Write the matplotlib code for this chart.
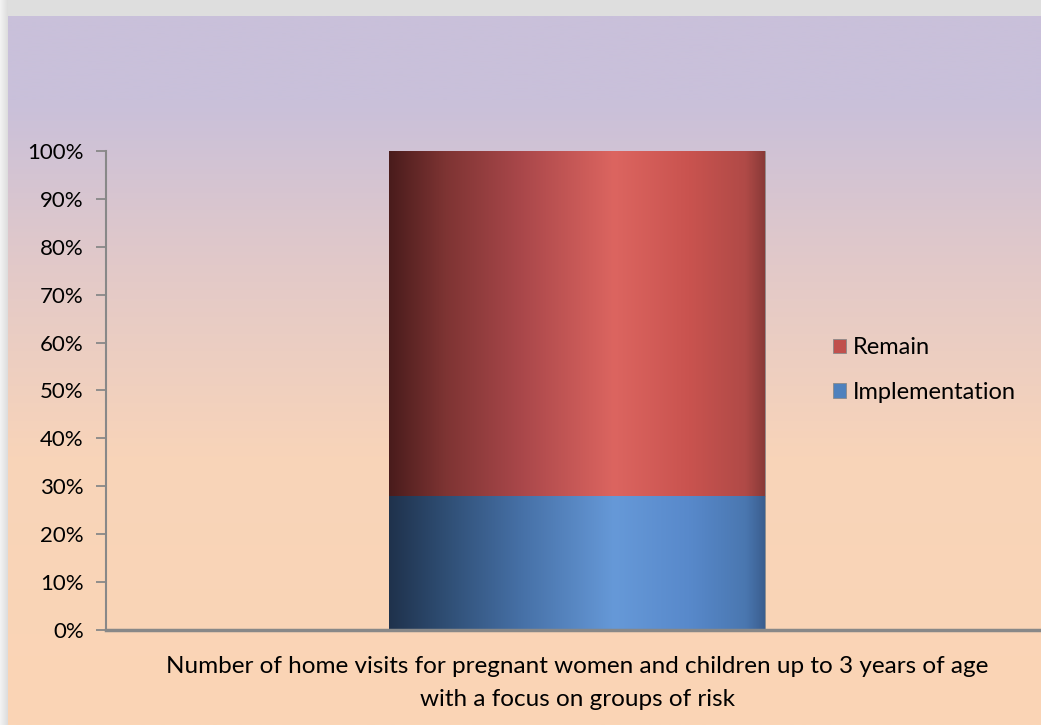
import numpy as np
import matplotlib.pyplot as plt
from matplotlib.colors import LinearSegmentedColormap

plt.rcParams['font.family'] = ['Lato', 'DejaVu Sans']

categories = ["Number of home visits for pregnant women and children up to 3 years of age\nwith a focus on groups of risk"]
implementation = [28]
remain = [72]
yticks = [0, 10, 20, 30, 40, 50, 60, 70, 80, 90, 100]

W, H = 1041, 725
fig = plt.figure(figsize=(W / 100, H / 100), dpi=100, facecolor="#dedede")

# slide background gradient (lavender top -> peach bottom)
bg = fig.add_axes([8 / W, 0, 1 - 8 / W, (H - 16) / H])
bg_cmap = LinearSegmentedColormap.from_list("bg", [(0, "#fbd5b5"), (0.38, "#f8d4b9"), (0.65, "#e2c9c9"),
                                                   (0.88, "#c9c0da"), (1, "#c9c0da")])
bg.imshow(np.linspace(0, 1, 256).reshape(-1, 1), aspect="auto", cmap=bg_cmap, origin="lower", extent=(0, 1, 0, 1))
bg.axis("off")

# left strip
strip = fig.add_axes([0, 0, 8 / W, 1])
strip.imshow(np.linspace(0, 1, 256).reshape(1, -1), aspect="auto",
             cmap=LinearSegmentedColormap.from_list("s", ["#f4f4f4", "#dcdcdc"]))
strip.axis("off")

ax = fig.add_axes([106 / W, (H - 630) / H, 1 - 106 / W, (630 - 151) / H])
ax.set_facecolor("none")

red_cmap = LinearSegmentedColormap.from_list("red", [(0, "#4a1c1c"), (0.15, "#7e3433"), (0.35, "#a9474a"),
                                                     (0.6, "#dc6560"), (0.8, "#c9534f"), (0.95, "#b04a47"), (1, "#8a3a38")])
blue_cmap = LinearSegmentedColormap.from_list("blue", [(0, "#1f324c"), (0.15, "#2f4e74"), (0.35, "#4670a6"),
                                                       (0.6, "#6699d8"), (0.8, "#5889cb"), (0.95, "#4a77b0"), (1, "#3b5f90")])

x = np.arange(len(categories))
width = 0.402
b1 = ax.bar(x, implementation, width, color="#4f81bd", label="Implementation", zorder=2)
b2 = ax.bar(x, remain, width, bottom=implementation, color="#c0504d", label="Remain", zorder=2)

grad = np.linspace(0, 1, 256).reshape(1, -1)
for bars, cm in [(b1, blue_cmap), (b2, red_cmap)]:
    for p in bars:
        x0, y0 = p.get_x(), p.get_y()
        im = ax.imshow(grad, aspect="auto", cmap=cm, zorder=3,
                       extent=(x0, x0 + p.get_width(), y0, y0 + p.get_height()))
        im.set_clip_path(p)
        p.set_edgecolor("#8a8a8a")
        p.set_linewidth(0.6)

ax.set_xlim(-0.5037, 0.4963)
ax.set_ylim(0, 100)
ax.set_yticks(yticks)
ax.set_yticklabels(["{}%".format(t) for t in yticks], fontsize=16)
ax.set_xticks([])
ax.tick_params(axis="y", length=7, width=1.3, color="#888888", pad=9)
for s in ["top", "right"]:
    ax.spines[s].set_visible(False)
ax.spines["left"].set_color("#888888")
ax.spines["left"].set_linewidth(1.5)
ax.spines["bottom"].set_color("#888888")
ax.spines["bottom"].set_linewidth(2.5)
ax.spines["bottom"].set_zorder(4)

fig.text(577 / W, 1 - 683 / H, categories[0], ha="center", va="center",
         fontsize=17.5, linespacing=1.65)

h, l = ax.get_legend_handles_labels()
fig.legend(h[::-1], l[::-1], loc="center left", bbox_to_anchor=(833 / W, 1 - 370 / H),
           frameon=False, fontsize=17, handlelength=0.55, handleheight=0.55,
           handletextpad=0.3, labelspacing=1.0, borderpad=0, borderaxespad=0)

plt.savefig("out.png", dpi=100, facecolor=fig.get_facecolor())
